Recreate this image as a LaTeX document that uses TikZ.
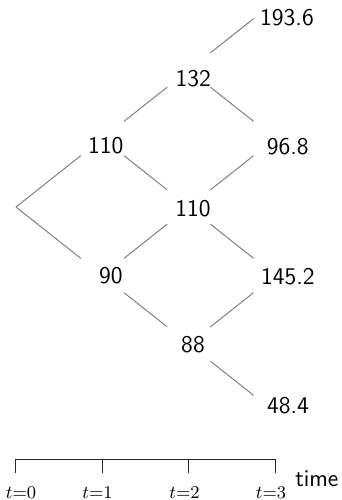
\documentclass[tikz,border=0pt]{standalone}
\begin{document}
\begin{tikzpicture}[x=0.5pt,y=-0.5pt,
  val/.style={font=\sffamily\large, inner sep=0pt},
  link/.style={draw=gray, line width=0.5pt, shorten <=13.8pt, shorten >=13.8pt},
  rootlink/.style={draw=gray, line width=0.5pt, shorten >=13.8pt},
  axisline/.style={draw=black!85, line width=0.5pt},
  ticklbl/.style={anchor=base, inner sep=0pt, font=\small}]
\useasboundingbox (0,0) rectangle (342,500);

% lattice points of the tree
\coordinate (r)   at (16,207);
\coordinate (u1)  at (102.4,138.5);
\coordinate (d1)  at (102.4,275.5);
\coordinate (uu2) at (188.8,70);
\coordinate (m2)  at (188.8,207);
\coordinate (dd2) at (188.8,344);
\coordinate (p3)  at (275.2,1.5);
\coordinate (q3)  at (275.2,138.5);
\coordinate (s3)  at (275.2,275.5);
\coordinate (w3)  at (275.2,412.5);

% values
\node[val] (v193) at (287,17.3)    {193.6};
\node[val] (v132) at (193.3,78.3)  {132};
\node[val] (v110a) at (105.8,146)  {110};
\node[val] (v968) at (287.8,146.3) {96.8};
\node[val] (v110b) at (193,208.3)  {110};
\node[val] (v90)  at (110.8,275.7) {90};
\node[val] (v1452) at (287.8,276.3) {145.2};
\node[val] (v88)  at (193,344.5)   {88};
\node[val] (v484) at (288,405.3)   {48.4};

% branches
\draw[rootlink] (r) -- (u1);
\draw[rootlink] (r) -- (d1);
\draw[link] (u1) -- (uu2);
\draw[link] (u1) -- (m2);
\draw[link] (d1) -- (m2);
\draw[link] (d1) -- (dd2);
\draw[link] (uu2) -- (p3);
\draw[link] (uu2) -- (q3);
\draw[link] (m2) -- (q3);
\draw[link] (m2) -- (s3);
\draw[link] (dd2) -- (s3);
\draw[link] (dd2) -- (w3);

% time axis
\coordinate (tk0) at (16,459.3);
\coordinate (tk1) at (102.3,459.3);
\coordinate (tk2) at (189,459.3);
\coordinate (tk3) at (275.2,459.3);
\coordinate (tb0) at (16,472.7);
\coordinate (tb1) at (102.3,472.7);
\coordinate (tb2) at (189,472.7);
\coordinate (tb3) at (275.2,472.7);
\draw[axisline] (tb0) -- (tk0) -- (tk3) -- (tb3);
\draw[axisline] (tk1) -- (tb1);
\draw[axisline] (tk2) -- (tb2);

\node[ticklbl] (t0) at (21,498)   {$t{=}0$};
\node[ticklbl] (t1) at (97.5,498) {$t{=}1$};
\node[ticklbl] (t2) at (184.5,498) {$t{=}2$};
\node[ticklbl] (t3) at (271,498)  {$t{=}3$};
\node[anchor=base west, inner sep=0pt, font=\sffamily\large] (timelbl) at (295,486.5) {time};
\end{tikzpicture}
\end{document}
